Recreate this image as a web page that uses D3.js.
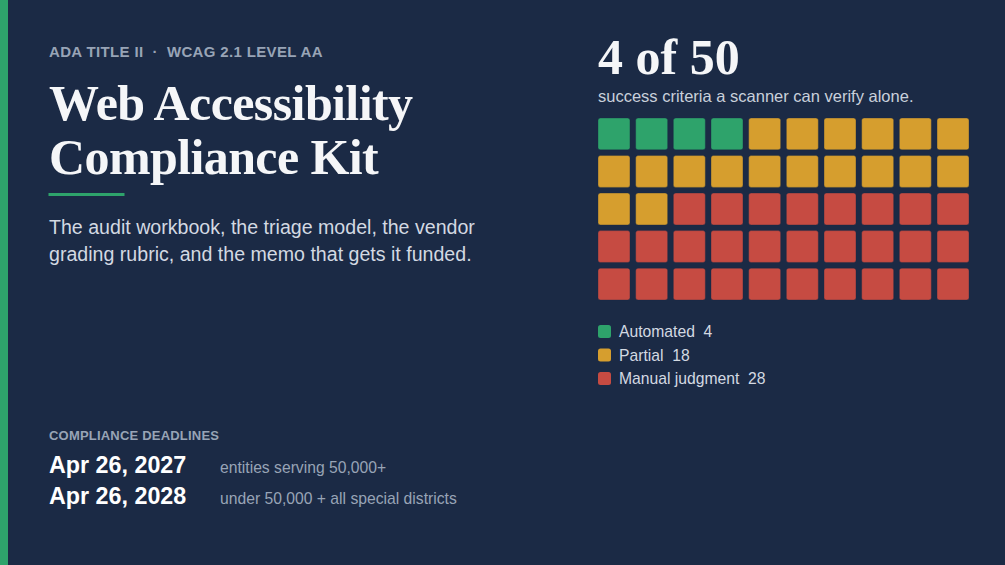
<!DOCTYPE html>
<html>
<head>
<meta charset="utf-8">
<script src="https://cdn.jsdelivr.net/npm/d3@7"></script>
<style>
  html, body { margin: 0; padding: 0; background: #1b2a45; }
  svg { display: block; }
</style>
</head>
<body>
<svg id="chart"></svg>
<script>
// categories and counts (50 WCAG 2.1 AA success criteria)
const categories = ['Automated', 'Partial', 'Manual judgment'];
const counts = [4, 18, 28];
const colors = ['#2ea36b', '#d69e2e', '#c64b42'];
const deadlineDates = ['Apr 26, 2027', 'Apr 26, 2028'];
const deadlineNotes = ['entities serving 50,000+', 'under 50,000 + all special districts'];

const width = 1005;
const height = 565;
const serif = '"Liberation Serif", "Times New Roman", serif';
const sans = '"Liberation Sans", Arial, sans-serif';

const svg = d3.select('#chart').attr('width', width).attr('height', height);

svg.append('rect').attr('width', width).attr('height', height).attr('fill', '#1b2a45');
svg.append('rect').attr('width', 8).attr('height', height).attr('fill', '#2ea36b');

// left column text
svg.append('text').attr('x', 49).attr('y', 57)
  .text('ADA TITLE II  ·  WCAG 2.1 LEVEL AA')
  .attr('xml:space', 'preserve')
  .style('font-family', sans).style('font-weight', 'bold').style('font-size', '15px')
  .style('letter-spacing', '0.35px')
  .attr('fill', '#98a4b6');

['Web Accessibility', 'Compliance Kit'].forEach((t, i) => {
  svg.append('text').attr('x', 49).attr('y', 120 + i * 54).text(t)
    .style('font-family', serif).style('font-weight', 'bold').style('font-size', '50px')
    .style('letter-spacing', '-0.6px')
    .attr('fill', '#f5f6f8');
});

svg.append('rect').attr('x', 48.5).attr('y', 193).attr('width', 76).attr('height', 3).attr('fill', '#2ea36b');

['The audit workbook, the triage model, the vendor',
 'grading rubric, and the memo that gets it funded.'].forEach((t, i) => {
  svg.append('text').attr('x', 49).attr('y', 234 + i * 27).text(t)
    .style('font-family', sans).style('font-size', '19.6px')
    .attr('fill', '#d3d9e2');
});

svg.append('text').attr('x', 49).attr('y', 440).text('COMPLIANCE DEADLINES')
  .style('font-family', sans).style('font-weight', 'bold').style('font-size', '13px')
  .style('letter-spacing', '0.2px')
  .attr('fill', '#98a4b6');

deadlineDates.forEach((d, i) => {
  svg.append('text').attr('x', 49).attr('y', 473 + i * 31).text(d)
    .style('font-family', sans).style('font-weight', 'bold').style('font-size', '23.3px')
    .attr('fill', '#ffffff');
  svg.append('text').attr('x', 220).attr('y', 473 + i * 31).text(deadlineNotes[i])
    .style('font-family', sans).style('font-size', '15.7px')
    .attr('fill', '#98a4b6');
});

// right column: headline number
const total = d3.sum(counts);
svg.append('text').attr('x', 598).attr('y', 73.5).text(`${counts[0]} of ${total}`)
  .style('font-family', serif).style('font-weight', 'bold').style('font-size', '50px')
  .attr('fill', '#f5f6f8');

svg.append('text').attr('x', 598).attr('y', 102).text('success criteria a scanner can verify alone.')
  .style('font-family', sans).style('font-size', '16.5px')
  .attr('fill', '#c9d0db');

// waffle grid
const cells = [];
categories.forEach((c, ci) => {
  for (let k = 0; k < counts[ci]; k++) cells.push(ci);
});

const x = d3.scaleBand().domain(d3.range(10)).range([598, 969]).paddingInner(0.151);
const y = d3.scaleBand().domain(d3.range(5)).range([118, 300]).paddingInner(0.151);

svg.append('g').selectAll('rect')
  .data(cells)
  .join('rect')
  .attr('x', (d, i) => x(i % 10))
  .attr('y', (d, i) => y(Math.floor(i / 10)))
  .attr('width', x.bandwidth())
  .attr('height', y.bandwidth())
  .attr('rx', 2.5)
  .attr('fill', d => colors[d])
  .attr('stroke', '#1b2a45')
  .attr('stroke-opacity', 0.35)
  .attr('stroke-width', 1);

// legend
const legend = svg.append('g').selectAll('g')
  .data(categories)
  .join('g')
  .attr('transform', (d, i) => `translate(598, ${325 + i * 23.5})`);

legend.append('rect')
  .attr('width', 13).attr('height', 13).attr('rx', 2.5)
  .attr('fill', (d, i) => colors[i]);

legend.append('text')
  .attr('x', 21).attr('y', 12)
  .attr('xml:space', 'preserve')
  .text((d, i) => `${d}  ${counts[i]}`)
  .style('font-family', sans).style('font-size', '15.7px')
  .attr('fill', '#d3d9e2');
</script>
</body>
</html>
